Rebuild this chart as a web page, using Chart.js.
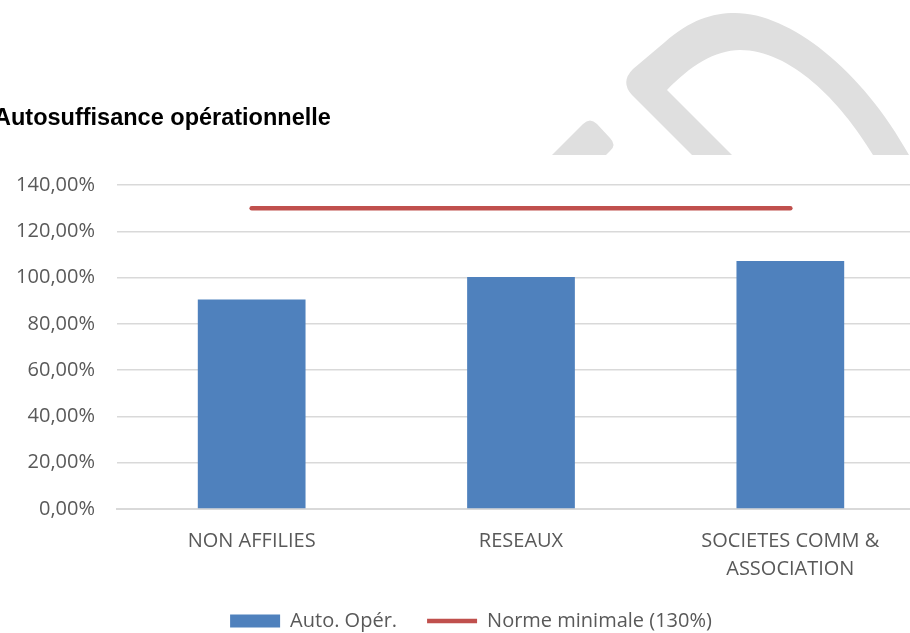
<!DOCTYPE html>
<html><head><meta charset="utf-8">
<script src="https://cdn.jsdelivr.net/npm/chart.js@4.4.1/dist/chart.umd.min.js"></script>
<style>
html,body{margin:0;padding:0;overflow:hidden;background:#fff;width:910px;height:633px;position:relative;}
#wrap{position:absolute;left:-15px;top:0;width:963px;height:641px;}
canvas{display:block;}
</style></head>
<body><div id="wrap"><canvas id="c" width="963" height="641"></canvas></div>
<script>
const titleText = "Autosuffisance opérationnelle";
const categories = [["NON AFFILIES"], ["RESEAUX"], ["SOCIETES COMM &", "ASSOCIATION"]];
const autoOperLabel = "Auto. Opér.";
const autoOper = [90.5, 100.3, 107.2];
const normeLabel = "Norme minimale (130%)";
const normeMinimale = [130, 130, 130];
const yMin = 0, yMax = 140, yStep = 20;

const watermark = {
  id: 'watermark',
  beforeDraw(chart) {
    const ctx = chart.ctx;
    const ox = 15;
    ctx.save();
    ctx.fillStyle = '#dfdfdf';
    ctx.beginPath();
    ctx.moveTo(692 + ox, 155);
    ctx.lineTo(632 + ox, 95);
    ctx.quadraticCurveTo(620 + ox, 82, 633 + ox, 69);
    ctx.lineTo(665 + ox, 42);
    ctx.bezierCurveTo(690 + ox, 20, 712 + ox, 13, 735 + ox, 13);
    ctx.bezierCurveTo(790 + ox, 13, 862 + ox, 70, 909 + ox, 155);
    ctx.lineTo(873 + ox, 155);
    ctx.bezierCurveTo(840 + ox, 100, 790 + ox, 50, 740 + ox, 50);
    ctx.bezierCurveTo(715 + ox, 50, 690 + ox, 66, 667 + ox, 90);
    ctx.lineTo(732 + ox, 155);
    ctx.closePath();
    ctx.fill();
    ctx.beginPath();
    ctx.moveTo(552 + ox, 155);
    ctx.lineTo(583 + ox, 124);
    ctx.quadraticCurveTo(590 + ox, 117, 597 + ox, 124);
    ctx.lineTo(610 + ox, 138);
    ctx.quadraticCurveTo(617 + ox, 145, 610 + ox, 151);
    ctx.lineTo(606 + ox, 155);
    ctx.closePath();
    ctx.fill();
    ctx.restore();
  }
};

const tickFont = {family: "'Open Sans', sans-serif", size: 20};

new Chart(document.getElementById('c'), {
  type: 'bar',
  data: {
    labels: categories,
    datasets: [
      {
        type: 'bar',
        label: autoOperLabel,
        data: autoOper,
        backgroundColor: '#4F81BD',
        borderWidth: 0,
        barPercentage: 0.4,
        categoryPercentage: 1.0,
        pointStyle: 'rect'
      },
      {
        type: 'line',
        label: normeLabel,
        data: normeMinimale,
        borderColor: '#C0504D',
        backgroundColor: '#C0504D',
        borderWidth: 4.5,
        borderCapStyle: 'round',
        pointRadius: 0,
        fill: false,
        pointStyle: 'line'
      }
    ]
  },
  plugins: [watermark],
  options: {
    responsive: false,
    animation: false,
    devicePixelRatio: 1,
    layout: {padding: {left: 9, right: 0, top: 0, bottom: 0}},
    plugins: {
      tooltip: {enabled: false},
      title: {
        display: true,
        text: titleText,
        align: 'start',
        color: '#000000',
        font: {family: "'Liberation Sans', Arial, sans-serif", size: 23.5, weight: 'bold', lineHeight: 1.2},
        padding: {top: 104, bottom: 52.8}
      },
      legend: {
        display: true,
        position: 'bottom',
        labels: {
          usePointStyle: true,
          pointStyleWidth: 50,
          boxHeight: 13,
          padding: 30,
          color: '#595959',
          font: tickFont
        }
      }
    },
    scales: {
      x: {
        grid: {display: false, drawTicks: false},
        border: {display: true, color: '#d9d9d9', width: 2},
        ticks: {color: '#595959', font: {family: "'Open Sans', sans-serif", size: 20, lineHeight: 1.4}, padding: 18, maxRotation: 0, autoSkip: false},
        afterFit(axis) { axis.height = 72; }
      },
      y: {
        min: yMin,
        max: yMax,
        grid: {color: '#d9d9d9', lineWidth: 1.5, drawTicks: false},
        border: {display: false},
        ticks: {
          stepSize: yStep,
          color: '#595959',
          font: tickFont,
          padding: 22,
          callback: (v) => v.toFixed(2).replace('.', ',') + '%'
        },
        afterFit(axis) { axis.width = 123; }
      },
      yRightSpacer: {
        display: true,
        position: 'right',
        min: yMin,
        max: yMax,
        grid: {display: false, drawTicks: false},
        border: {display: false},
        ticks: {display: false},
        afterFit(axis) { axis.width = 23; }
      }
    }
  }
});
</script>
</body></html>
